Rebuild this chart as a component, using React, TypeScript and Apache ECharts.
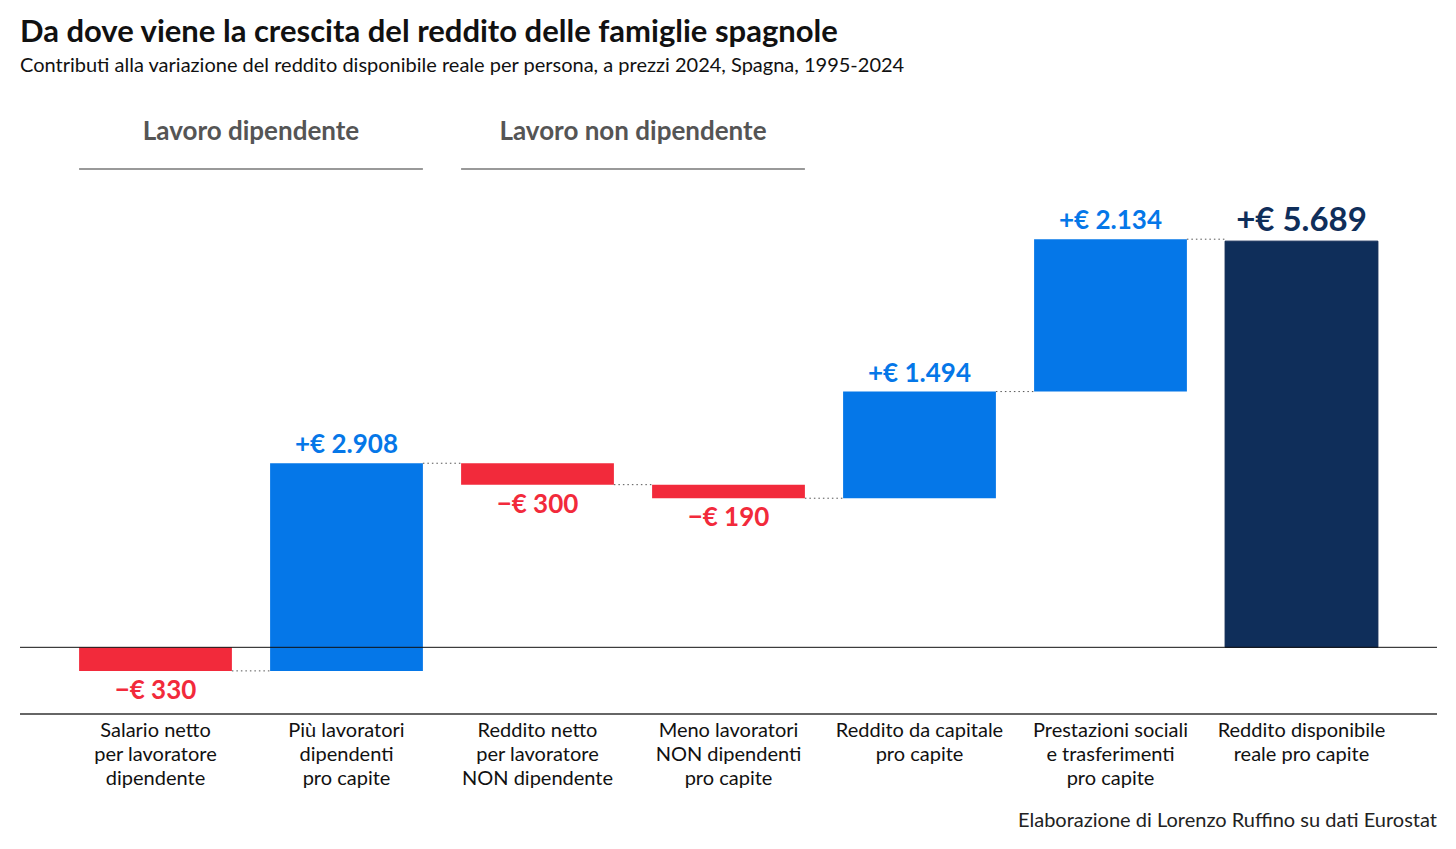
import React, { useEffect, useRef } from "react";
import * as echarts from "echarts";

const categories = [
  "Salario netto\nper lavoratore\ndipendente",
  "Più lavoratori\ndipendenti\npro capite",
  "Reddito netto\nper lavoratore\nNON dipendente",
  "Meno lavoratori\nNON dipendenti\npro capite",
  "Reddito da capitale\npro capite",
  "Prestazioni sociali\ne trasferimenti\npro capite",
  "Reddito disponibile\nreale pro capite",
];
const contributions = [-330, 2908, -300, -190, 1494, 2134];
const totalValue = 5689;
const groupLabels = ["Lavoro dipendente", "Lavoro non dipendente"];
const groupSpans = [
  [0, 1],
  [2, 3],
];

const FONT = "Lato, 'Source Sans Pro', 'Noto Sans', sans-serif";
const RED = "#F22A3B";
const BLUE = "#0577E8";
const NAVY = "#0F2E5A";

function fmt(v: number) {
  const abs = Math.abs(v);
  const s = abs.toString().replace(/\B(?=(\d{3})+(?!\d))/g, ".");
  return (v < 0 ? "\u2212€ " : "+€ ") + s;
}

export default function App() {
  const ref = useRef<HTMLDivElement>(null);
  useEffect(() => {
    if (!ref.current) return;
    const chart = echarts.init(ref.current, undefined, { renderer: "svg" });

    const rows: any[] = [];
    let level = 0;
    contributions.forEach((v, i) => {
      rows.push([i, level, level + v, v, v < 0 ? 0 : 1]);
      level += v;
    });
    rows.push([contributions.length, 0, totalValue, totalValue, 2]);
    const levels: number[] = [];
    let acc = 0;
    contributions.forEach((v) => {
      acc += v;
      levels.push(acc);
    });
    const connectors = levels.map((l, i) => [i, l]);

    const option: any = {
      animation: false,
      grid: { left: 60, right: 59, top: 200, bottom: 135 },
      xAxis: {
        type: "category",
        data: categories,
        axisLine: { show: false },
        axisTick: { show: false },
        axisLabel: {
          interval: 0,
          margin: 3,
          fontFamily: FONT,
          fontSize: 20,
          lineHeight: 24,
          color: "#111",
          verticalAlign: "top",
        },
      },
      yAxis: {
        type: "value",
        min: -934,
        max: 6265,
        show: false,
        splitLine: { show: false },
      },
      series: [
        {
          type: "custom",
          data: connectors,
          z: 1,
          renderItem: (params: any, api: any) => {
            const idx = api.value(0);
            const lv = api.value(1);
            const w = api.size([1, 0])[0] * 0.8;
            const a = api.coord([idx, lv]);
            const b = api.coord([idx + 1, lv]);
            return {
              type: "line",
              shape: { x1: a[0] + w / 2, y1: a[1], x2: b[0] - w / 2, y2: b[1] },
              style: { stroke: "#555", lineWidth: 1, lineDash: [1.5, 3] },
            };
          },
        },
        {
          type: "custom",
          data: rows,
          z: 2,
          renderItem: (params: any, api: any) => {
            const idx = api.value(0);
            const start = api.value(1);
            const end = api.value(2);
            const val = api.value(3);
            const kind = api.value(4);
            const w = api.size([1, 0])[0] * 0.8;
            const p1 = api.coord([idx, start]);
            const p2 = api.coord([idx, end]);
            const top = Math.min(p1[1], p2[1]);
            const bottom = Math.max(p1[1], p2[1]);
            const color = kind === 0 ? RED : kind === 1 ? BLUE : NAVY;
            const neg = val < 0;
            const labelY = neg ? bottom + 18 : top - (kind === 2 ? 23 : 20);
            return {
              type: "group",
              children: [
                {
                  type: "rect",
                  shape: { x: p1[0] - w / 2, y: top, width: w, height: bottom - top },
                  style: {
                    fill: color,
                    stroke: kind === 2 ? "#0B2550" : null,
                    lineWidth: kind === 2 ? 1 : 0,
                  },
                },
                {
                  type: "text",
                  style: {
                    text: fmt(val),
                    x: p1[0],
                    y: labelY,
                    align: "center",
                    verticalAlign: "middle",
                    fill: color,
                    fontFamily: FONT,
                    fontWeight: "bold",
                    fontSize: kind === 2 ? 33 : 26,
                  },
                },
              ],
            };
          },
        },
      ],
    };
    chart.setOption(option);

    const zeroY = chart.convertToPixel({ yAxisIndex: 0 }, 0) as number;
    const bottomY = chart.convertToPixel({ yAxisIndex: 0 }, -934) as number;
    const c0 = chart.convertToPixel({ xAxisIndex: 0 }, 0) as number;
    const c1 = chart.convertToPixel({ xAxisIndex: 0 }, 1) as number;
    const band = c1 - c0;
    const bw = band * 0.8;
    const graphics: any[] = [
      {
        type: "text",
        x: 20,
        y: 30,
        style: {
          text: "Da dove viene la crescita del reddito delle famiglie spagnole",
          fontFamily: FONT,
          fontWeight: "bold",
          fontSize: 31,
          verticalAlign: "middle",
          fill: "#111",
        },
      },
      {
        type: "text",
        x: 20,
        y: 64,
        style: {
          text: "Contributi alla variazione del reddito disponibile reale per persona, a prezzi 2024, Spagna, 1995-2024",
          fontFamily: FONT,
          fontSize: 20,
          verticalAlign: "middle",
          fill: "#111",
        },
      },
      {
        type: "line",
        shape: { x1: 20, y1: zeroY, x2: 1437, y2: zeroY },
        style: { stroke: "#111", lineWidth: 1 },
        z: 10,
      },
      {
        type: "line",
        shape: { x1: 20, y1: bottomY, x2: 1437, y2: bottomY },
        style: { stroke: "#333", lineWidth: 1.5 },
      },
      {
        type: "text",
        x: 1437,
        y: 819,
        style: {
          text: "Elaborazione di Lorenzo Ruffino su dati Eurostat",
          fontFamily: FONT,
          fontSize: 20,
          align: "right",
          verticalAlign: "middle",
          fill: "#222",
        },
      },
    ];
    groupSpans.forEach((sp, gi) => {
      const xa = (chart.convertToPixel({ xAxisIndex: 0 }, sp[0]) as number) - bw / 2;
      const xb = (chart.convertToPixel({ xAxisIndex: 0 }, sp[1]) as number) + bw / 2;
      graphics.push({
        type: "text",
        x: (xa + xb) / 2,
        y: 130,
        style: {
          text: groupLabels[gi],
          align: "center",
          verticalAlign: "middle",
          fontFamily: FONT,
          fontWeight: "bold",
          fontSize: 26,
          fill: "#555",
        },
      });
      graphics.push({
        type: "line",
        shape: { x1: xa, y1: 169, x2: xb, y2: 169 },
        style: { stroke: "#777", lineWidth: 1.5 },
      });
    });
    chart.setOption({ graphic: graphics });

    return () => chart.dispose();
  }, []);
  return (
    <div
      ref={ref}
      style={{ position: "fixed", left: 0, top: 0, width: 1456, height: 849, background: "#fff" }}
    />
  );
}
